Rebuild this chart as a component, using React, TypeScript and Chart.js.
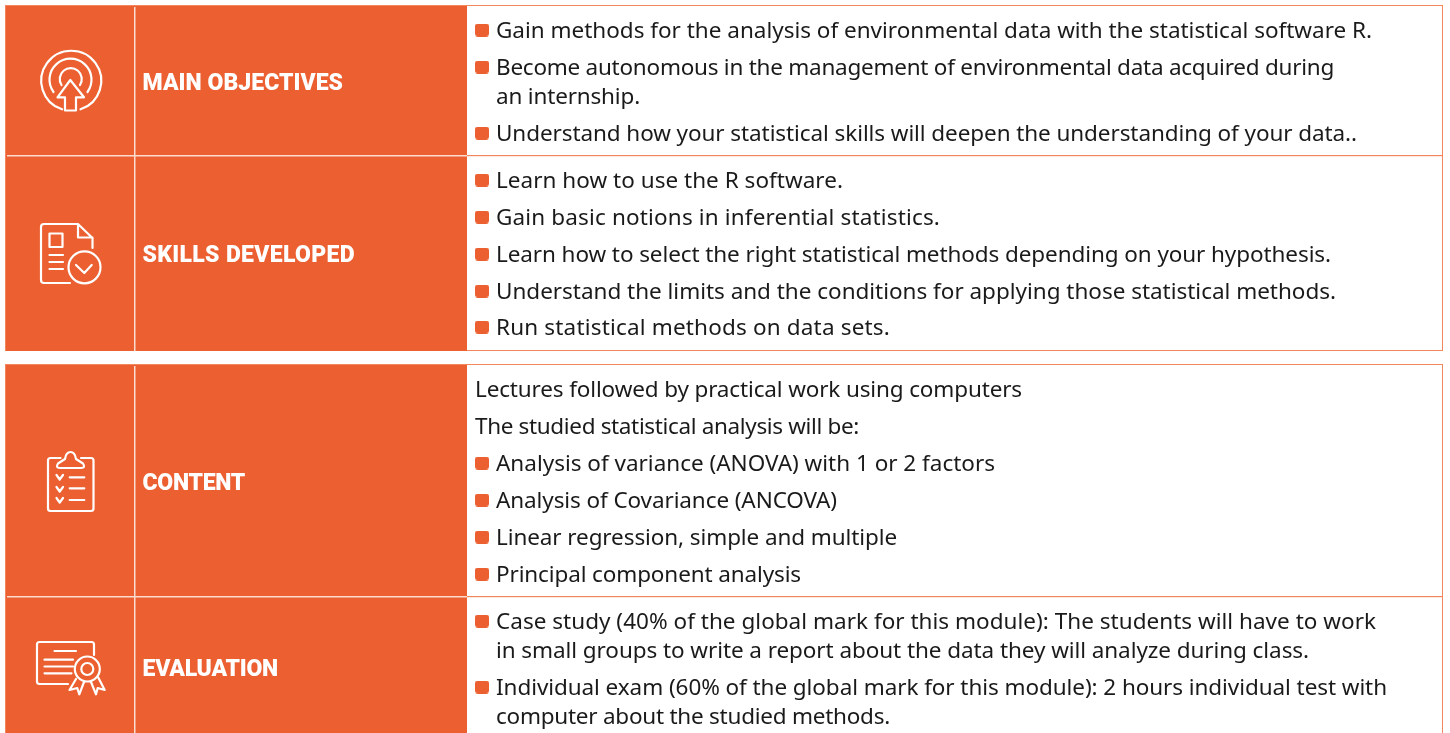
import React, { useEffect, useRef } from "react";
import { Chart, registerables } from "chart.js";

Chart.register(...registerables);

const ORANGE = "#eb5f30";
const INK = "#1a1a1a";
const BODY_FONT = '22.5px "Noto Sans"';
const HEAD_FONT = '900 23px Roboto';

// Section blocks: [left, top, right, bottom] in page units
const panelEdges = [
  [6, 6, 1443, 351],
  [6, 365, 1443, 740],
];
const orangeRight = 467;
const columnRule = 135;
const orangeRules = [156, 597];

const headings = ["MAIN OBJECTIVES", "SKILLS DEVELOPED", "CONTENT", "EVALUATION"];
const headingY = [82, 254, 482, 668];
const headingEnd = [343, 355, 245, 278];

const bodyLines = [
  "Gain methods for the analysis of environmental data with the statistical software R.",
  "Become autonomous in the management of environmental data acquired during",
  "an internship.",
  "Understand how your statistical skills will deepen the understanding of your data..",
  "Learn how to use the R software.",
  "Gain basic notions in inferential statistics.",
  "Learn how to select the right statistical methods depending on your hypothesis.",
  "Understand the limits and the conditions for applying those statistical methods.",
  "Run statistical methods on data sets.",
  "Lectures followed by practical work using computers",
  "The studied statistical analysis will be:",
  "Analysis of variance (ANOVA) with 1 or 2 factors",
  "Analysis of Covariance (ANCOVA)",
  "Linear regression, simple and multiple",
  "Principal component analysis",
  "Case study (40% of the global mark for this module): The students will have to work",
  "in small groups to write a report about the data they will analyze during class.",
  "Individual exam (60% of the global mark for this module): 2 hours individual test with",
  "computer about the studied methods.",
];
const bodyY = [30, 67, 96, 133, 180, 217, 254, 291, 327, 389, 426, 463, 500, 537, 574, 621, 650, 687, 716];
const bodyStart = [496, 496, 496, 496, 496, 496, 496, 496, 496, 475, 475, 496, 496, 496, 496, 496, 496, 496, 496];
const bodyEnd = [1372, 1334, 640, 1357, 843, 940, 1331, 1336, 890, 1022, 859, 995, 837, 897, 801, 1376, 1309, 1387, 890];
const bulletRows = [30, 67, 133, 180, 217, 254, 291, 327, 463, 500, 537, 574, 621, 687];
const bulletX = 482;

const iconPaths = [
  // target with arrow
  "M62 109.3A30 30 0 1 1 80.5 109.3M53.5 92A21 21 0 1 1 87.5 92M61.5 85A11 11 0 1 1 80 85M70.3 80L57.5 97.3H65V110.5H76V97.3H84Z",
  // document with check
  "M78 224H44Q41 224 41 227V280Q41 283 44 283H70M78 224L92.5 238V248M78 224V237.5H92.5M49.5 233.5H62.5V247H49.5ZM49.5 255H63M49.5 262H63M49.5 269H63M100.5 267.3A16 16 0 1 1 68.5 267.3A16 16 0 1 1 100.5 267.3M76 265L84.3 273L91.7 265",
  // clipboard
  "M60.5 458H50.5Q48 458 48 460.5V508.5Q48 511 50.5 511H91Q93.5 511 93.5 508.5V460.5Q93.5 458 91 458H81M60 468Q55 468 58 463.5L65 459Q66 452 70.5 452Q75 452 76 459L83 463.5Q86 468 81 468ZM56.5 475L59.7 479.5L63 475M56.5 487L59.7 491.5L63 487M56.5 498L59.7 502.5L63 498M69.7 477.3H84.3M69.7 488.3H84.3M69.7 500H84.3",
  // certificate
  "M94 655V644.5Q94 642 91.5 642H39.5Q37 642 37 644.5V681.5Q37 684 39.5 684H68M54.5 651H76M44.5 659.7H73M44.5 666.5H73M44.5 673.3H71.5M99.8 669A12.5 12.5 0 1 1 74.8 669A12.5 12.5 0 1 1 99.8 669M93.3 669A6 6 0 1 1 81.3 669A6 6 0 1 1 93.3 669M76 679L69.5 690L77.3 688L79.3 694.3L84 682M91 682L96 694.3L97.7 688L104.7 690L98.5 678",
];

function makeBullet() {
  const c = document.createElement("canvas");
  c.width = 14;
  c.height = 13;
  const g = c.getContext("2d")!;
  g.fillStyle = ORANGE;
  g.beginPath();
  g.roundRect(0, 0, 14, 13, 3);
  g.fill();
  return c;
}

const tablePlugin = {
  id: "tablePlugin",
  beforeDatasetsDraw(chart: any) {
    const { ctx, scales } = chart;
    const X = (v: number) => scales.x.getPixelForValue(v);
    const Y = (v: number) => scales.y.getPixelForValue(v);
    ctx.save();
    panelEdges.forEach(([l, t, r, b]) => {
      ctx.strokeStyle = "#f2875f";
      ctx.lineWidth = 1;
      ctx.strokeRect(X(l) - 0.5, Y(t) - 0.5, X(r) - X(l), Y(b) - Y(t));
      ctx.fillStyle = ORANGE;
      ctx.fillRect(X(l), Y(t), X(orangeRight) - X(l), Y(b) - Y(t));
      ctx.fillStyle = "#fbdccf";
      ctx.fillRect(X(columnRule) - 1, Y(t) + 1, 1.5, Y(b) - Y(t) - 1);
    });
    orangeRules.forEach((v) => {
      ctx.fillStyle = "#fbdccf";
      ctx.fillRect(X(7), Y(v) - 1, X(orangeRight) - X(7), 1.5);
      ctx.fillStyle = "#f2875f";
      ctx.fillRect(X(orangeRight), Y(v) - 1, X(1443) - X(orangeRight), 1.2);
    });
    ctx.restore();
  },
  afterDatasetsDraw(chart: any) {
    const { ctx, scales } = chart;
    const X = (v: number) => scales.x.getPixelForValue(v);
    const Y = (v: number) => scales.y.getPixelForValue(v);
    const fit = (text: string, start: number, end: number, base: number, font: string, color: string) => {
      ctx.font = font;
      ctx.fillStyle = color;
      ctx.textAlign = "left";
      ctx.textBaseline = "alphabetic";
      ctx.letterSpacing = "0px";
      const w = ctx.measureText(text).width;
      ctx.letterSpacing = `${(X(end) - X(start) - w) / text.length}px`;
      ctx.fillText(text, X(start), Y(base));
      ctx.letterSpacing = "0px";
    };
    ctx.save();
    headings.forEach((t, i) => fit(t, 142.5, headingEnd[i], headingY[i] + 8, HEAD_FONT, "#ffffff"));
    bodyLines.forEach((t, i) => fit(t, bodyStart[i], bodyEnd[i], bodyY[i] + 8, BODY_FONT, INK));
    ctx.strokeStyle = "#ffffff";
    ctx.lineWidth = 2.2;
    ctx.lineJoin = "round";
    ctx.lineCap = "round";
    iconPaths.forEach((d) => ctx.stroke(new Path2D(d)));
    ctx.restore();
  },
};

export default function App() {
  const ref = useRef<HTMLCanvasElement>(null);
  useEffect(() => {
    const chart = new Chart(ref.current!, {
      type: "scatter",
      data: {
        datasets: [
          {
            label: "Bullets",
            data: bulletRows.map((y) => ({ x: bulletX, y })),
            pointStyle: makeBullet(),
            pointRadius: 7,
            pointBorderWidth: 0,
          },
        ],
      },
      options: {
        animation: false,
        responsive: false,
        layout: { padding: 0, autoPadding: false },
        plugins: { legend: { display: false }, tooltip: { enabled: false } },
        scales: {
          x: { type: "linear", min: 0, max: 1450, display: false },
          y: { type: "linear", min: 0, max: 733, reverse: true, display: false },
        },
      },
      plugins: [tablePlugin],
    });
    return () => chart.destroy();
  }, []);
  return (
    <div style={{ position: "fixed", left: 0, top: 0, width: 1450, height: 733, background: "#fff" }}>
      <canvas ref={ref} width={1450} height={733} style={{ display: "block" }} />
    </div>
  );
}
